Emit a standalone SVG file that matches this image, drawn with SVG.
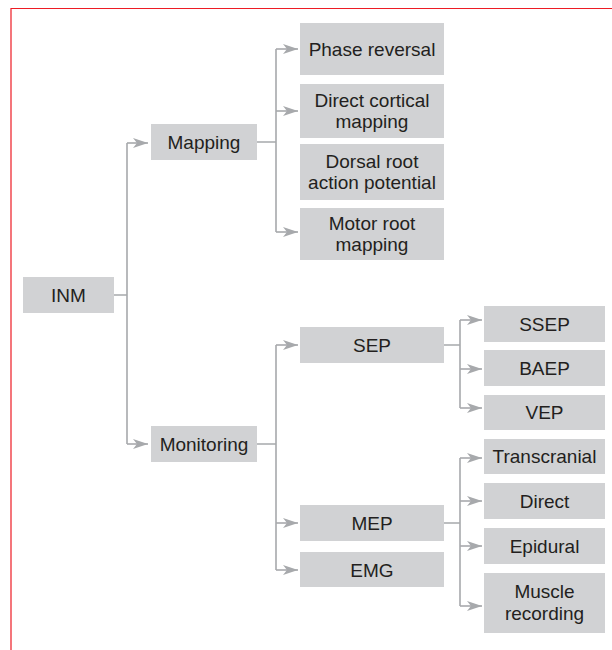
<svg xmlns="http://www.w3.org/2000/svg" width="612" height="650" viewBox="0 0 612 650">
  <defs>
    <marker id="arr" markerUnits="userSpaceOnUse" markerWidth="16" markerHeight="12" refX="15" refY="5" orient="auto" viewBox="0 0 16 10">
      <path d="M0,0 L15,5 L0,10 L4,5 z" fill="#a7a9ac"/>
    </marker>
  </defs>
  <style>
    .box { fill: #d1d2d4; }
    .t { font-family: "Liberation Sans", Arial, sans-serif; font-size: 19px; fill: #231f20; text-anchor: middle; }
    .ln { fill: none; stroke: #a7a9ac; stroke-width: 1.6; }
    .ar { fill: none; stroke: #a7a9ac; stroke-width: 1.6; marker-end: url(#arr); }
  </style>
  <rect width="612" height="650" fill="#ffffff"/>
  <path d="M11,650 V8.5 H612" fill="none" stroke="#ed1c24" stroke-width="1.2"/>

  <g id="connectors">
    <path class="ln" d="M114,295 H127 M127,143 V444"/>
    <path class="ar" d="M127,143 H148"/>
    <path class="ar" d="M127,444 H148"/>

    <path class="ln" d="M257,142 H276 M276,49 V232"/>
    <path class="ar" d="M276,49 H298"/>
    <path class="ar" d="M276,111 H298"/>
    <path class="ar" d="M276,232 H298"/>

    <path class="ln" d="M257,444 H276 M276,345 V570"/>
    <path class="ar" d="M276,345 H298"/>
    <path class="ar" d="M276,523 H298"/>
    <path class="ar" d="M276,570 H298"/>

    <path class="ln" d="M444,345 H460 M460,320 V408"/>
    <path class="ar" d="M460,320 H482"/>
    <path class="ar" d="M460,369 H482"/>
    <path class="ar" d="M460,408 H482"/>

    <path class="ln" d="M444,523 H460 M460,458 V606"/>
    <path class="ar" d="M460,458 H482"/>
    <path class="ar" d="M460,501 H482"/>
    <path class="ar" d="M460,546 H482"/>
    <path class="ar" d="M460,606 H482"/>
  </g>

  <g id="inm"><rect class="box" x="23" y="277" width="91" height="36"/><text class="t" x="68.5" y="302">INM</text></g>
  <g id="mapping"><rect class="box" x="151" y="124" width="106" height="36"/><text class="t" x="204" y="149">Mapping</text></g>
  <g id="monitoring"><rect class="box" x="151" y="426" width="106" height="36"/><text class="t" x="204" y="451">Monitoring</text></g>

  <g id="phase-reversal"><rect class="box" x="300" y="23" width="144" height="52"/><text class="t" x="372" y="56">Phase reversal</text></g>
  <g id="direct-cortical"><rect class="box" x="300" y="84" width="144" height="54"/><text class="t" x="372" y="107">Direct cortical</text><text class="t" x="372" y="128">mapping</text></g>
  <g id="dorsal-root"><rect class="box" x="300" y="144" width="144" height="56"/><text class="t" x="372" y="168">Dorsal root</text><text class="t" x="372" y="189">action potential</text></g>
  <g id="motor-root"><rect class="box" x="300" y="208" width="144" height="52"/><text class="t" x="372" y="230">Motor root</text><text class="t" x="372" y="251">mapping</text></g>

  <g id="sep"><rect class="box" x="300" y="327" width="144" height="36"/><text class="t" x="372" y="352">SEP</text></g>
  <g id="mep"><rect class="box" x="300" y="505" width="144" height="36"/><text class="t" x="372" y="530">MEP</text></g>
  <g id="emg"><rect class="box" x="300" y="552" width="144" height="35"/><text class="t" x="372" y="577">EMG</text></g>

  <g id="ssep"><rect class="box" x="484" y="306" width="121" height="36"/><text class="t" x="544.5" y="331">SSEP</text></g>
  <g id="baep"><rect class="box" x="484" y="350" width="121" height="36"/><text class="t" x="544.5" y="375">BAEP</text></g>
  <g id="vep"><rect class="box" x="484" y="395" width="121" height="35"/><text class="t" x="544.5" y="419">VEP</text></g>

  <g id="transcranial"><rect class="box" x="484" y="439" width="121" height="35"/><text class="t" x="544.5" y="463">Transcranial</text></g>
  <g id="direct"><rect class="box" x="484" y="483" width="121" height="36"/><text class="t" x="544.5" y="508">Direct</text></g>
  <g id="epidural"><rect class="box" x="484" y="528" width="121" height="36"/><text class="t" x="544.5" y="553">Epidural</text></g>
  <g id="muscle-recording"><rect class="box" x="484" y="573" width="121" height="60"/><text class="t" x="544.5" y="598">Muscle</text><text class="t" x="544.5" y="620">recording</text></g>
</svg>
